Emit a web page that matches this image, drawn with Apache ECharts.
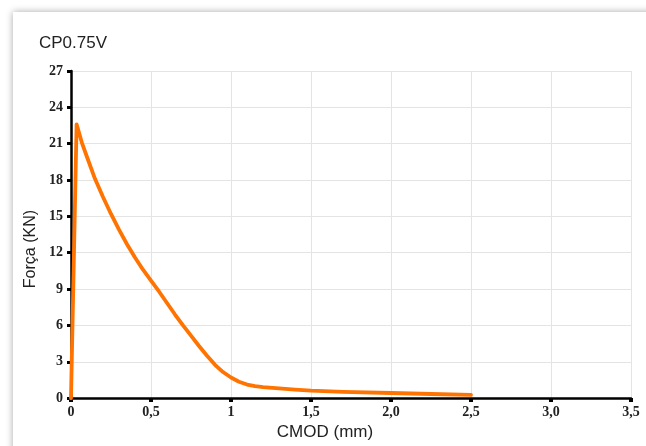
<!DOCTYPE html>
<html>
<head>
<meta charset="utf-8">
<script src="https://cdn.jsdelivr.net/npm/echarts@6/dist/echarts.min.js"></script>
<style>
  html, body { margin: 0; padding: 0; background: #ffffff; width: 646px; height: 446px; overflow: hidden; }
  #card { position: absolute; left: 13px; top: 12px; width: 720px; height: 520px; background: #fff; box-shadow: 0 0 7px rgba(0,0,0,0.35); }
  #chart { position: absolute; left: 0; top: 0; width: 646px; height: 446px; }
</style>
</head>
<body>
<div id="card"></div>
<div id="chart"></div>
<script>
const titleText = 'CP0.75V';
const xName = 'CMOD (mm)';
const yName = 'Força (KN)';
const xTickLabels = ['0', '0,5', '1', '1,5', '2,0', '2,5', '3,0', '3,5'];
const cmod  = [0, 0.035, 0.07, 0.1, 0.15, 0.2, 0.25, 0.3, 0.35, 0.4, 0.45, 0.5, 0.55, 0.6, 0.65, 0.7, 0.75, 0.8, 0.85, 0.9, 0.95, 1.0, 1.05, 1.1, 1.15, 1.2, 1.3, 1.4, 1.5, 1.7, 2.0, 2.25, 2.5];
const forca = [0, 22.6, 21.0, 19.9, 18.1, 16.6, 15.2, 13.9, 12.7, 11.6, 10.6, 9.7, 8.8, 7.85, 6.9, 6.0, 5.15, 4.3, 3.5, 2.75, 2.15, 1.7, 1.35, 1.12, 0.98, 0.9, 0.8, 0.7, 0.62, 0.52, 0.42, 0.34, 0.26];

const chart = echarts.init(document.getElementById('chart'), null, { renderer: 'canvas' });
const tickFont = { fontFamily: 'Liberation Serif', fontWeight: 'bold', fontSize: 14, color: '#222' };
chart.setOption({
  animation: false,
  backgroundColor: 'transparent',
  title: { text: titleText, left: 34, top: 30, textStyle: { fontFamily: 'Liberation Sans', fontWeight: 'normal', fontSize: 17, color: '#222' } },
  grid: { left: 71, right: 15, top: 71, bottom: 46, containLabel: false },
  xAxis: {
    type: 'value', min: 0, max: 3.5, interval: 0.5,
    name: xName, nameLocation: 'middle', nameGap: 24,
    nameTextStyle: { fontFamily: 'Liberation Sans', fontSize: 17, color: '#222', padding: [0, 52, 0, 0] },
    axisLine: { show: true, onZero: false, lineStyle: { color: '#000', width: 2.5 } },
    axisTick: { show: true, length: 4, lineStyle: { color: '#000', width: 4 } },
    axisLabel: Object.assign({ margin: 7, formatter: (v) => xTickLabels[Math.round(v / 0.5)] }, tickFont),
    splitLine: { show: true, lineStyle: { color: '#e4e4e4', width: 1 } }
  },
  yAxis: {
    type: 'value', min: 0, max: 27, interval: 3,
    name: yName, nameLocation: 'middle', nameGap: 28, nameRotate: 90,
    nameTextStyle: { fontFamily: 'Liberation Sans', fontSize: 16, color: '#222', padding: [0, 29, 0, 0] },
    axisLine: { show: true, onZero: false, lineStyle: { color: '#000', width: 2.5 } },
    axisTick: { show: true, length: 4, lineStyle: { color: '#000', width: 3 } },
    axisLabel: Object.assign({ margin: 8 }, tickFont),
    splitLine: { show: true, lineStyle: { color: '#e4e4e4', width: 1 } }
  },
  series: [{
    type: 'line',
    data: cmod.map((x, i) => [x, forca[i]]),
    showSymbol: false,
    smooth: false,
    lineStyle: { color: '#ff7300', width: 3.8, join: 'round', cap: 'round' },
    z: 3
  }]
});
</script>
</body>
</html>
